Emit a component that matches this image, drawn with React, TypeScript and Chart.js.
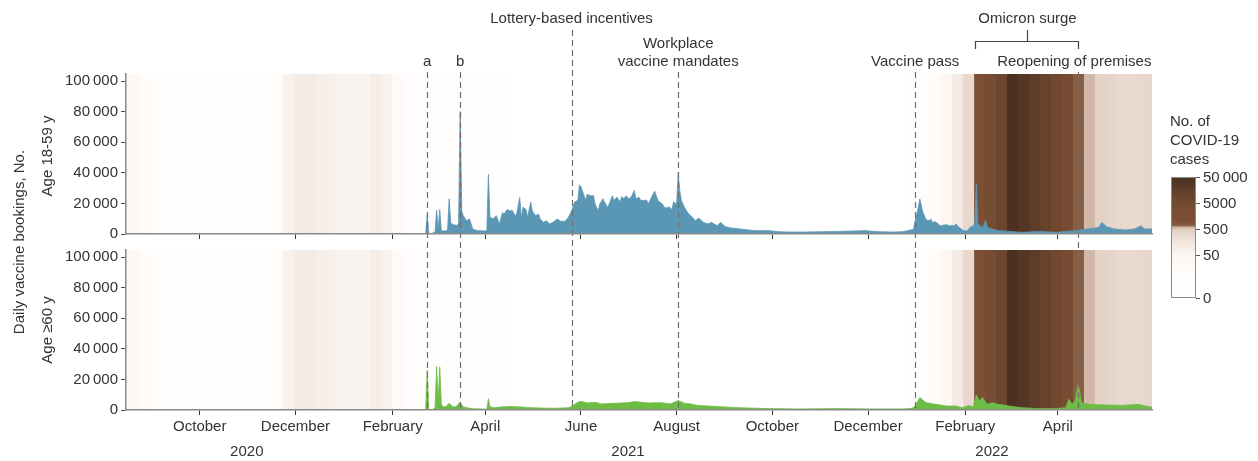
import { useEffect, useRef } from "react";
import { Chart, registerables } from "chart.js";

Chart.register(...registerables);

// ---------------- data ----------------
const xStart = "2020-08-15";
const xEnd = "2022-05-31";

const monthTickDates = [
  "2020-10-01", "2020-12-01", "2021-02-01", "2021-04-01", "2021-06-01",
  "2021-08-01", "2021-10-01", "2021-12-01", "2022-02-01", "2022-04-01",
];
const monthLabels = [
  "October", "December", "February", "April", "June",
  "August", "October", "December", "February", "April",
];
const yearLabels = ["2020", "2021", "2022"];
const yearAnchorDates = ["2020-10-31", "2021-07-01", "2022-02-18"];

const bookingTicks = [0, 20000, 40000, 60000, 80000, 100000];
const caseScaleTicks = [0, 50, 500, 5000, 50000];

// weekly COVID-19 case counts (Monday weeks starting at caseWeekStart)
const caseWeekStart = "2020-08-10";
const weeklyCases = [
  40, 40, 30, 22, 15, 18, 20, 16, 12, 6, 5, 5, 7, 12, 25, 70, 100, 110, 90, 75,
  60, 55, 60, 95, 70, 35, 25, 20, 18, 15, 22, 14, 10, 8, 6, 5, 4, 3, 2, 1,
  1, 1, 0, 1, 0, 0, 1, 0, 0, 0, 1, 0, 0, 0, 0, 1, 0, 0, 1, 0, 0, 0, 0, 1, 0, 0, 0, 1, 0, 0, 1,
  2, 6, 20, 30, 45, 120, 300, 1500, 3000, 7000, 45000, 30000, 18000, 10000, 5000,
  3000, 700, 550, 400, 350, 300, 300, 320, 330,
];

const bookings18to59: [string, number][] = [
  ["2021-02-22", 0], ["2021-02-23", 13000], ["2021-02-24", 0], ["2021-02-26", 0],
  ["2021-02-27", 1200], ["2021-02-28", 1000], ["2021-03-01", 15700], ["2021-03-02", 3000],
  ["2021-03-03", 16000], ["2021-03-04", 2000], ["2021-03-07", 2000], ["2021-03-08", 3000],
  ["2021-03-09", 23000], ["2021-03-10", 7000], ["2021-03-12", 6000], ["2021-03-14", 5500],
  ["2021-03-15", 7000], ["2021-03-16", 80000], ["2021-03-17", 15000], ["2021-03-18", 12000],
  ["2021-03-20", 8700], ["2021-03-22", 9800], ["2021-03-24", 3300], ["2021-03-27", 2200],
  ["2021-04-02", 2000], ["2021-04-03", 39000], ["2021-04-04", 11000], ["2021-04-06", 9800],
  ["2021-04-08", 12000], ["2021-04-10", 6500], ["2021-04-12", 14000], ["2021-04-13", 13000],
  ["2021-04-15", 16000], ["2021-04-17", 15000], ["2021-04-18", 15700], ["2021-04-20", 12000],
  ["2021-04-21", 13000], ["2021-04-23", 24000], ["2021-04-24", 9800], ["2021-04-25", 17500],
  ["2021-04-27", 16000], ["2021-04-28", 11000], ["2021-04-30", 21000], ["2021-05-01", 15000],
  ["2021-05-03", 12000], ["2021-05-05", 13000], ["2021-05-06", 9800], ["2021-05-08", 7600],
  ["2021-05-10", 8700], ["2021-05-12", 6500], ["2021-05-14", 7600], ["2021-05-17", 9800],
  ["2021-05-19", 8300], ["2021-05-22", 8300], ["2021-05-24", 11000], ["2021-05-26", 15000],
  ["2021-05-28", 21000], ["2021-05-30", 22000], ["2021-05-31", 32000], ["2021-06-01", 31000],
  ["2021-06-03", 25000], ["2021-06-04", 22000], ["2021-06-05", 26000], ["2021-06-07", 25000],
  ["2021-06-09", 25000], ["2021-06-10", 19600], ["2021-06-12", 15000], ["2021-06-13", 19600],
  ["2021-06-15", 23000], ["2021-06-16", 21000], ["2021-06-18", 17400], ["2021-06-19", 19600],
  ["2021-06-21", 25000], ["2021-06-22", 22000], ["2021-06-24", 24000], ["2021-06-26", 21000],
  ["2021-06-27", 24500], ["2021-06-28", 23000], ["2021-06-30", 25000], ["2021-07-01", 23000],
  ["2021-07-03", 24000], ["2021-07-05", 28500], ["2021-07-06", 23000], ["2021-07-08", 24000],
  ["2021-07-09", 22000], ["2021-07-11", 22000], ["2021-07-13", 22000], ["2021-07-14", 19600],
  ["2021-07-16", 24000], ["2021-07-18", 28000], ["2021-07-20", 22000], ["2021-07-21", 21000],
  ["2021-07-23", 19600], ["2021-07-24", 17400], ["2021-07-26", 17000], ["2021-07-27", 17800],
  ["2021-07-29", 16000], ["2021-07-30", 21000], ["2021-08-01", 19600], ["2021-08-02", 40000],
  ["2021-08-03", 28000], ["2021-08-04", 22000], ["2021-08-06", 17400], ["2021-08-08", 14000],
  ["2021-08-10", 12000], ["2021-08-12", 9800], ["2021-08-13", 8700], ["2021-08-15", 10400],
  ["2021-08-18", 7600], ["2021-08-21", 6500], ["2021-08-23", 7600], ["2021-08-27", 5400],
  ["2021-08-29", 7600], ["2021-09-01", 4800], ["2021-09-05", 3900], ["2021-09-10", 3300],
  ["2021-09-16", 2600], ["2021-09-20", 2200], ["2021-09-29", 2200], ["2021-10-05", 1500],
  ["2021-10-11", 1300], ["2021-10-22", 1300], ["2021-11-02", 1500], ["2021-11-12", 1700],
  ["2021-11-23", 2000], ["2021-11-29", 2200], ["2021-12-08", 1500], ["2021-12-17", 1300],
  ["2021-12-23", 1500], ["2021-12-28", 2600], ["2021-12-30", 3000], ["2021-12-31", 8700],
  ["2022-01-02", 17000], ["2022-01-03", 22800], ["2022-01-05", 14000], ["2022-01-07", 9300],
  ["2022-01-09", 8700], ["2022-01-10", 9800], ["2022-01-11", 7600], ["2022-01-13", 8000],
  ["2022-01-16", 5400], ["2022-01-20", 6100], ["2022-01-22", 5400], ["2022-01-25", 5400],
  ["2022-01-26", 6500], ["2022-01-28", 4300], ["2022-01-31", 2200], ["2022-02-02", 2000],
  ["2022-02-04", 4300], ["2022-02-06", 5400], ["2022-02-07", 6500], ["2022-02-08", 32700],
  ["2022-02-09", 6500], ["2022-02-12", 4300], ["2022-02-14", 9000], ["2022-02-15", 4300],
  ["2022-02-18", 3300], ["2022-02-22", 2200], ["2022-03-01", 1700], ["2022-03-09", 1100],
  ["2022-03-20", 1700], ["2022-03-31", 1100], ["2022-04-06", 1700], ["2022-04-12", 2200],
  ["2022-04-15", 2600], ["2022-04-20", 3300], ["2022-04-27", 4300], ["2022-04-29", 7600],
  ["2022-05-02", 4800], ["2022-05-07", 3300], ["2022-05-14", 2600], ["2022-05-20", 3300],
  ["2022-05-24", 5400], ["2022-05-26", 3300], ["2022-05-31", 3300],
];

const bookings60plus: [string, number][] = [
  ["2021-02-22", 0], ["2021-02-23", 26000], ["2021-02-24", 0], ["2021-02-26", 0],
  ["2021-02-27", 800], ["2021-02-28", 1000], ["2021-03-01", 28500], ["2021-03-02", 6000],
  ["2021-03-03", 28000], ["2021-03-04", 4000], ["2021-03-05", 2000], ["2021-03-07", 2300],
  ["2021-03-09", 4400], ["2021-03-11", 2300], ["2021-03-13", 2000], ["2021-03-14", 3000],
  ["2021-03-16", 5000], ["2021-03-18", 2000], ["2021-03-21", 1300], ["2021-03-24", 800],
  ["2021-04-01", 600], ["2021-04-02", 600], ["2021-04-03", 7300], ["2021-04-04", 2000],
  ["2021-04-07", 1500], ["2021-04-11", 2000], ["2021-04-17", 2300], ["2021-04-24", 2000],
  ["2021-04-30", 1500], ["2021-05-07", 1300], ["2021-05-15", 1100], ["2021-05-24", 1500],
  ["2021-05-26", 2300], ["2021-05-30", 5000], ["2021-06-01", 5700], ["2021-06-05", 4600],
  ["2021-06-10", 5000], ["2021-06-14", 4000], ["2021-06-22", 4400], ["2021-07-01", 4800],
  ["2021-07-05", 5500], ["2021-07-14", 4600], ["2021-07-22", 4800], ["2021-07-28", 4000],
  ["2021-08-02", 6200], ["2021-08-06", 4400], ["2021-08-10", 4000], ["2021-08-12", 3500],
  ["2021-08-15", 3000], ["2021-08-28", 2200], ["2021-09-10", 1500], ["2021-09-29", 900],
  ["2021-10-18", 700], ["2021-11-12", 900], ["2021-12-02", 700], ["2021-12-23", 700],
  ["2021-12-29", 1100], ["2021-12-31", 2500], ["2022-01-03", 8100], ["2022-01-07", 4800],
  ["2022-01-13", 3700], ["2022-01-20", 2600], ["2022-01-26", 2600], ["2022-01-30", 1500],
  ["2022-02-03", 3000], ["2022-02-06", 2000], ["2022-02-08", 9900], ["2022-02-10", 5900],
  ["2022-02-12", 8100], ["2022-02-15", 3700], ["2022-02-18", 4800], ["2022-02-22", 3700],
  ["2022-03-01", 2600], ["2022-03-09", 1500], ["2022-03-20", 900], ["2022-03-30", 900],
  ["2022-04-06", 1500], ["2022-04-08", 7000], ["2022-04-10", 3700], ["2022-04-12", 5900],
  ["2022-04-14", 18000], ["2022-04-16", 4800], ["2022-04-21", 3700], ["2022-05-01", 3300],
  ["2022-05-12", 3000], ["2022-05-22", 3700], ["2022-05-30", 2000], ["2022-05-31", 2000],
];

const eventDates = ["2021-02-23", "2021-03-16", "2021-05-26", "2021-08-02", "2021-12-31", "2022-04-14"];
const eventLabels = [["a"], ["b"], ["Lottery-based incentives"], ["Workplace", "vaccine mandates"], ["Vaccine pass"], ["Reopening of premises"]];
const omicronRange = ["2022-02-07", "2022-04-14"];
const omicronLabel = "Omicron surge";

// ---------------- layout & style ----------------
const W = 1258;
const H = 461;
const P = { left: 126, right: 1152, top1: 74, bottom1: 234, top2: 250, bottom2: 410 };
const panelMax = 104600;
const FONT = '"Liberation Sans", Arial, sans-serif';
const TEXT = "#333333";
const eventTier = [1, 1, 0, 1, 1, 1];
const eventDx = [0, 0, 0, 0, 0, -4];

const dayOf = (s: string) => Math.round(Date.parse(s + "T00:00:00Z") / 86400000);
const fmt = (v: number) => (v >= 10000 ? String(v).replace(/\B(?=(\d{3})+(?!\d))/g, "\u2009") : String(v));

const cmapStops: [number, string][] = [
  [0, "#ffffff"], [0.2, "#fffcfa"], [0.358, "#fbf5f1"], [0.46, "#f2e7e0"], [0.56, "#e3d0c4"],
  [0.585, "#cdb3a3"], [0.6, "#8a5e42"], [0.63, "#7c5136"], [0.775, "#744a31"], [0.88, "#62402b"],
  [1, "#4a2f20"],
];
const hex = (h: string) => [1, 3, 5].map((i) => parseInt(h.slice(i, i + 2), 16));
const cmap = (t: number) => {
  const tt = Math.max(0, Math.min(1, t));
  for (let k = 1; k < cmapStops.length; k++) {
    const [t1, c1] = cmapStops[k];
    const [t0, c0] = cmapStops[k - 1];
    if (tt <= t1) {
      const f = (tt - t0) / (t1 - t0 || 1);
      const a = hex(c0), b = hex(c1);
      const c = a.map((v, i) => Math.round(v + (b[i] - v) * f));
      return `rgb(${c[0]},${c[1]},${c[2]})`;
    }
  }
  return cmapStops[cmapStops.length - 1][1];
};
const caseToT = (v: number) => (v <= 50 ? (0.358 * v) / 50 : Math.min(1, 0.358 + 0.214 * Math.log10(v / 50)));
const caseColor = (v: number) => cmap(caseToT(v));

const X_MIN = dayOf(xStart);
const X_MAX = dayOf(xEnd);
const week0 = dayOf(caseWeekStart);
const heatPoints = weeklyCases.map((_, i) => ({ x: week0 + 7 * i + 3.5, y: panelMax }));
const heatColors = weeklyCases.map(caseColor);
const toXY = (arr: [string, number][]) => arr.map(([d, v]) => ({ x: dayOf(d), y: v }));

const xAxis = (showLabels: boolean) => ({
  type: "linear",
  position: "bottom",
  min: X_MIN,
  max: X_MAX,
  offset: false,
  afterBuildTicks: (sc: any) => {
    sc.ticks = monthTickDates.map((d) => ({ value: dayOf(d) }));
  },
  ticks: {
    display: showLabels,
    autoSkip: false,
    maxRotation: 0,
    padding: 3,
    color: TEXT,
    font: { size: 15, family: FONT },
    callback: (_v: any, i: number) => monthLabels[i],
  },
  grid: { display: true, drawOnChartArea: false, drawTicks: true, tickLength: 5, color: "#333", offset: false },
  border: { display: true, color: "#8a8a8a", width: 1.5, z: 1 },
});

const yAxis = () => ({
  type: "linear",
  position: "left",
  min: 0,
  max: panelMax,
  afterBuildTicks: (sc: any) => {
    sc.ticks = bookingTicks.map((v) => ({ value: v }));
  },
  ticks: { padding: 3, color: TEXT, font: { size: 15, family: FONT }, callback: (v: any) => fmt(Number(v)) },
  grid: { drawOnChartArea: false, drawTicks: true, tickLength: 5, color: "#5a4a4a" },
  border: { display: true, color: "#8a8a8a", width: 1.5, z: 1 },
});

const panelLayout = {
  id: "panelLayout",
  afterLayout(chart: any) {
    const s = chart.scales;
    const place = (sc: any, l: number, t: number, r: number, b: number) => {
      sc.left = l; sc.top = t; sc.right = r; sc.bottom = b;
      sc.width = r - l; sc.height = b - t;
      sc.configure();
    };
    place(s.y, P.left - 80, P.top1, P.left, P.bottom1);
    place(s.y2, P.left - 80, P.top2, P.left, P.bottom2);
    place(s.xTop, P.left, P.bottom1, P.right, P.bottom1 + 10);
    place(s.x, P.left, P.bottom2, P.right, P.bottom2 + 30);
    chart.chartArea = {
      left: P.left, top: P.top1, right: P.right, bottom: P.bottom2,
      width: P.right - P.left, height: P.bottom2 - P.top1,
    };
  },
};

const overlay = {
  id: "overlay",
  afterDatasetsDraw(chart: any) {
    const ctx = chart.ctx;
    const x = chart.scales.x;
    ctx.save();
    ctx.strokeStyle = "#6e6e6e";
    ctx.lineWidth = 1.2;
    ctx.setLineDash([6, 4]);
    eventDates.forEach((d, i) => {
      const px = Math.round(x.getPixelForValue(dayOf(d))) + 0.5;
      const top = eventTier[i] === 0 ? 30 : 72;
      ctx.beginPath();
      ctx.moveTo(px, top);
      ctx.lineTo(px, P.bottom2);
      ctx.stroke();
    });
    ctx.restore();
  },
  afterDraw(chart: any) {
    const ctx = chart.ctx;
    const x = chart.scales.x;
    ctx.save();
    ctx.fillStyle = TEXT;
    ctx.font = `15px ${FONT}`;
    ctx.textAlign = "center";
    ctx.textBaseline = "middle";

    // event labels
    eventDates.forEach((d, i) => {
      const px = x.getPixelForValue(dayOf(d)) + eventDx[i];
      const lines = eventLabels[i];
      if (eventTier[i] === 0) {
        ctx.fillText(lines[0], px, 19);
      } else {
        const ys = lines.length === 2 ? [44, 62] : [62];
        lines.forEach((ln, k) => ctx.fillText(ln, px, ys[k]));
      }
    });

    // omicron bracket
    const ox0 = Math.round(x.getPixelForValue(dayOf(omicronRange[0]))) + 0.5;
    const ox1 = Math.round(x.getPixelForValue(dayOf(omicronRange[1]))) + 0.5;
    const oxm = Math.round((ox0 + ox1) / 2) + 0.5;
    ctx.strokeStyle = "#444";
    ctx.lineWidth = 1.2;
    ctx.beginPath();
    ctx.moveTo(ox0, 49); ctx.lineTo(ox0, 41.5); ctx.lineTo(ox1, 41.5); ctx.lineTo(ox1, 49);
    ctx.moveTo(oxm, 41.5); ctx.lineTo(oxm, 30);
    ctx.stroke();
    ctx.fillText(omicronLabel, oxm, 19);

    // year labels
    yearLabels.forEach((lab, i) => {
      ctx.fillText(lab, x.getPixelForValue(dayOf(yearAnchorDates[i])), 452);
    });

    // axis titles
    const rot = (txt: string, cx: number, cy: number) => {
      ctx.save();
      ctx.translate(cx, cy);
      ctx.rotate(-Math.PI / 2);
      ctx.fillText(txt, 0, 0);
      ctx.restore();
    };
    rot("Age 18-59 y", 48, (P.top1 + P.bottom1) / 2 + 2);
    rot("Age \u226560 y", 48, (P.top2 + P.bottom2) / 2);
    rot("Daily vaccine bookings, No.", 20, (P.top1 + P.bottom2) / 2);

    // colour bar legend
    const cb = { left: 1171, right: 1196, top: 177, bottom: 298 };
    const grad = ctx.createLinearGradient(0, cb.bottom, 0, cb.top);
    for (let k = 0; k <= 240; k++) grad.addColorStop(k / 240, cmap(k / 240));
    ctx.fillStyle = grad;
    ctx.fillRect(cb.left, cb.top, cb.right - cb.left, cb.bottom - cb.top);
    ctx.strokeStyle = "#8a8a8a";
    ctx.lineWidth = 1;
    ctx.strokeRect(cb.left + 0.5, cb.top + 0.5, cb.right - cb.left - 1, cb.bottom - cb.top - 1);
    ctx.fillStyle = TEXT;
    ctx.textAlign = "left";
    ["No. of", "COVID-19", "cases"].forEach((t, i) => ctx.fillText(t, 1170, 122 + i * 19));
    ctx.strokeStyle = "#555";
    caseScaleTicks.forEach((v) => {
      const y = Math.round(cb.bottom - caseToT(v) * (cb.bottom - cb.top)) + 0.5;
      ctx.beginPath();
      ctx.moveTo(cb.right, y);
      ctx.lineTo(cb.right + 4, y);
      ctx.stroke();
      ctx.fillText(fmt(v), cb.right + 7, y);
    });
    ctx.restore();
  },
};

export default function App() {
  const ref = useRef<HTMLCanvasElement | null>(null);
  useEffect(() => {
    document.body.style.margin = "0";
    Chart.defaults.font.family = FONT;
    Chart.defaults.color = TEXT;
    const chart = new Chart(ref.current as HTMLCanvasElement, {
      type: "bar",
      data: {
        datasets: [
          {
            type: "line",
            label: "Age 18-59 y",
            data: toXY(bookings18to59),
            xAxisID: "xTop",
            yAxisID: "y",
            fill: "origin",
            backgroundColor: "#5a97b5",
            borderColor: "#5a97b5",
            borderWidth: 0.8,
            pointRadius: 0,
            tension: 0,
            order: 0,
          },
          {
            type: "line",
            label: "Age ≥60 y",
            data: toXY(bookings60plus),
            xAxisID: "x",
            yAxisID: "y2",
            fill: "origin",
            backgroundColor: "#6dbd45",
            borderColor: "#6dbd45",
            borderWidth: 0.8,
            pointRadius: 0,
            tension: 0,
            order: 0,
          },
          {
            type: "bar",
            label: "cases top",
            data: heatPoints,
            xAxisID: "xTop",
            yAxisID: "y",
            backgroundColor: heatColors,
            borderWidth: 0,
            barPercentage: 1,
            categoryPercentage: 1,
            grouped: false,
            inflateAmount: 0.6,
            order: 2,
          },
          {
            type: "bar",
            label: "cases bottom",
            data: heatPoints,
            xAxisID: "x",
            yAxisID: "y2",
            backgroundColor: heatColors,
            borderWidth: 0,
            barPercentage: 1,
            categoryPercentage: 1,
            grouped: false,
            inflateAmount: 0.6,
            order: 2,
          },
        ],
      } as any,
      options: {
        responsive: false,
        animation: false,
        events: [],
        layout: { padding: 0 },
        plugins: { legend: { display: false }, tooltip: { enabled: false } },
        scales: {
          x: xAxis(true),
          xTop: xAxis(false),
          y: yAxis(),
          y2: yAxis(),
        } as any,
      },
      plugins: [panelLayout, overlay],
    } as any);
    return () => chart.destroy();
  }, []);
  return (
    <div style={{ width: W, height: H }}>
      <canvas ref={ref} width={W} height={H} style={{ display: "block", width: W, height: H }} />
    </div>
  );
}
